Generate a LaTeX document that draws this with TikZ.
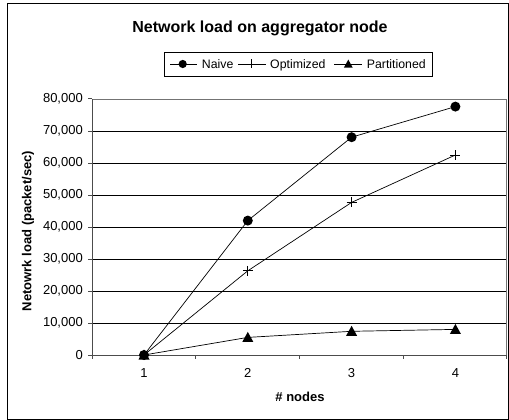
\documentclass[tikz,border=0pt]{standalone}
\usepackage{fontspec}
\setmainfont{Liberation Sans}
\begin{document}
\begin{tikzpicture}[x=1pt,y=-1pt,
  gridline/.style={black, line width=0.7pt},
  axisline/.style={black!70, line width=1pt},
  series/.style={black, line width=0.7pt},
  ticklabel/.style={font=\fontsize{13}{15}\selectfont, inner sep=0pt},
  axislabel/.style={font=\fontsize{13}{15}\selectfont\bfseries, inner sep=0pt},
  legtext/.style={font=\fontsize{12.3}{15}\selectfont, inner sep=0pt, anchor=base west},
  dotmark/.pic={\fill[black] (0,0) circle (5);},
  plusmark/.pic={\draw[black, line width=0.8pt] (-5,0) -- (5,0) (0,-5) -- (0,5);},
  trimark/.pic={\fill[black] (0,-5.5) -- (5.5,4.5) -- (-5.5,4.5) -- cycle;}]
\useasboundingbox (0,0) rectangle (509,420);
% outer frame
\draw[black, line width=1pt] (7,3.5) rectangle (508,419);
% title
\node[font=\fontsize{16}{18}\selectfont\bfseries, inner sep=0pt] (title) at (260,28) {Network load on aggregator node};
% legend
\draw[black, line width=0.8pt] (164,52) rectangle (432.7,76.7);
\coordinate (la0) at (170,64); \coordinate (la1) at (196.7,64);
\coordinate (lb0) at (238.3,64); \coordinate (lb1) at (266,64);
\coordinate (lc0) at (334,64); \coordinate (lc1) at (361.7,64);
\draw[series] (la0) -- (la1);
\draw[series] (lb0) -- (lb1);
\draw[series] (lc0) -- (lc1);
\pic[scale=0.82] at (182.7,64) {dotmark};
\pic[scale=0.9] at (251.7,64) {plusmark};
\pic[scale=0.8] at (348.3,64) {trimark};
\node[legtext] (lna) at (201.7,68.5) {Naive};
\node[legtext] (lop) at (270,68.5) {Optimized};
\node[legtext] (lpa) at (366.7,68.5) {Partitioned};
% grid lines and plot frame
\foreach \v/\lab in {0/0,1/10{,}000,2/20{,}000,3/30{,}000,4/40{,}000,5/50{,}000,6/60{,}000,7/70{,}000,8/80{,}000}{
  \pgfmathsetmacro{\yy}{355-32*\v}
  \ifnum\v>0 \draw[gridline] (92,\yy) -- (506.7,\yy); \fi
  \draw[axisline] (88,\yy) -- (92,\yy);
  \node[ticklabel, anchor=east] (yl\v) at (83,\yy) {\lab};
}
\draw[black!55, line width=0.8pt] (92,99) -- (506.7,99) -- (506.7,355);
\draw[axisline] (92,99) -- (92,355) -- (506.7,355);
\foreach \xx in {92,195.7,299.4,403,506.7}{
  \draw[axisline] (\xx,355) -- (\xx,359);
}
\foreach \i/\xx in {1/144,2/247.8,3/351.6,4/455.4}{
  \node[ticklabel] (xl\i) at (\xx,373) {\i};
}
% axis labels
\node[axislabel, rotate=90] (ylab) at (28,231) {Netowrk load (packet/sec)};
\node[axislabel] (xlab) at (300,397) {\# nodes};
% data points
\coordinate (a1) at (144,355); \coordinate (a2) at (247.8,220.6);
\coordinate (a3) at (351.6,137.2); \coordinate (a4) at (455.4,106.6);
\coordinate (b1) at (144,355); \coordinate (b2) at (247.8,270.8);
\coordinate (b3) at (351.6,202.4); \coordinate (b4) at (455.4,155);
\coordinate (c1) at (144,355); \coordinate (c2) at (247.8,337.4);
\coordinate (c3) at (351.6,331.3); \coordinate (c4) at (455.4,329.4);
\draw[series] (a1) -- (a2) -- (a3) -- (a4);
\draw[series] (b1) -- (b2) -- (b3) -- (b4);
\draw[series] (c1) -- (c2) -- (c3) -- (c4);
\foreach \p in {a1,a2,a3,a4}{ \pic at (\p) {dotmark}; }
\foreach \p in {b1,b2,b3,b4}{ \pic at (\p) {plusmark}; }
\foreach \p in {c1,c2,c3,c4}{ \pic at (\p) {trimark}; }
\end{tikzpicture}
\end{document}
